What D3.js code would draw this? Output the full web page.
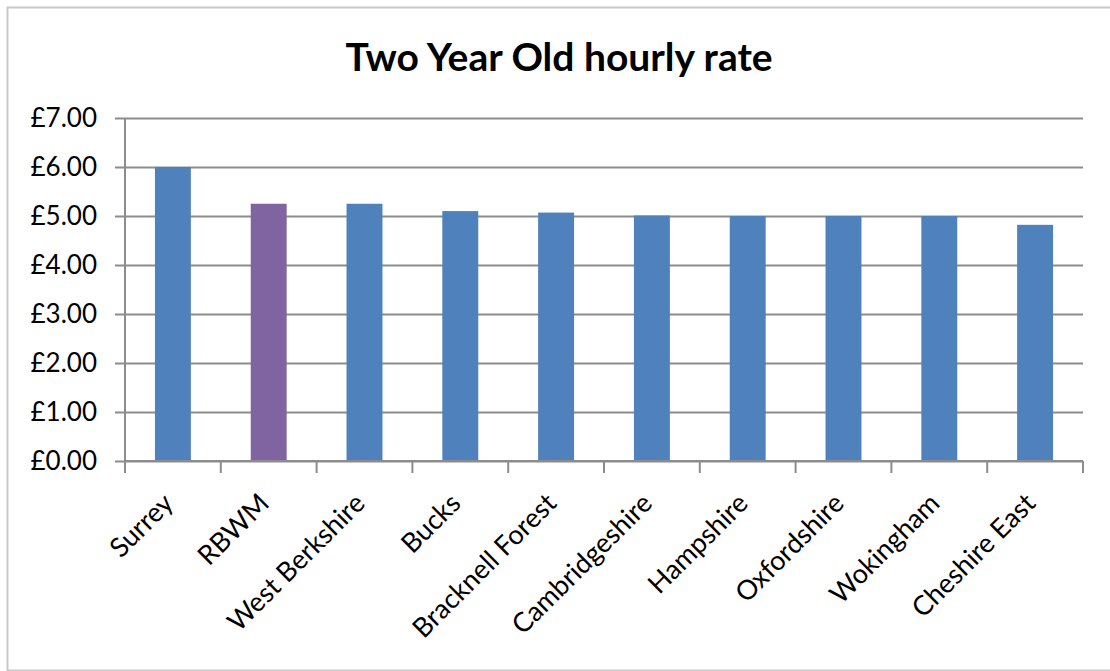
<!DOCTYPE html>
<html>
<head>
<meta charset="utf-8">
<script src="https://cdn.jsdelivr.net/npm/d3@7"></script>
<style>
  body { margin: 0; background: #fff; }
  text { font-family: Lato, "Open Sans", sans-serif; }
</style>
</head>
<body>
<div id="chart"></div>
<script>
// data
var areas = ["Surrey", "RBWM", "West Berkshire", "Bucks", "Bracknell Forest",
             "Cambridgeshire", "Hampshire", "Oxfordshire", "Wokingham", "Cheshire East"];
var rates = [6.00, 5.25, 5.25, 5.10, 5.07, 5.01, 5.00, 5.00, 5.00, 4.82];
var highlight = ["RBWM"];
var yTicks = [0, 1, 2, 3, 4, 5, 6, 7];

var W = 1110, H = 671;
var plot = { left: 125, right: 1083, top: 118, bottom: 461 };

var svg = d3.select("#chart")
    .append("svg")
    .attr("width", W)
    .attr("height", H);

// outer chart frame
svg.append("rect")
    .attr("x", 7.5).attr("y", 7.5)
    .attr("width", W).attr("height", 663)
    .attr("fill", "#fff")
    .attr("stroke", "#c8c8c8")
    .attr("stroke-width", 2);

svg.append("text")
    .attr("x", 559)
    .attr("y", 71)
    .attr("text-anchor", "middle")
    .style("font-size", "39px")
    .style("font-weight", "bold")
    .style("fill", "#000")
    .text("Two Year Old hourly rate");

var x = d3.scaleBand()
    .domain(areas)
    .range([plot.left, plot.right])
    .paddingInner(0.625)
    .paddingOuter(0.3125);

var y = d3.scaleLinear()
    .domain([0, 7])
    .range([plot.bottom, plot.top]);

// gridlines + y labels
var yAxis = svg.append("g")
    .attr("transform", "translate(" + plot.left + ",0)")
    .call(d3.axisLeft(y)
        .tickValues(yTicks)
        .tickSize(-(plot.right - plot.left))
        .tickPadding(28)
        .tickFormat(function (d) { return "£" + d3.format(".2f")(d); }));
yAxis.select(".domain").remove();
yAxis.selectAll(".tick line")
    .attr("x1", -10)
    .attr("stroke", "#8c8c8c")
    .attr("stroke-width", 2);
yAxis.selectAll(".tick text")
    .style("font-size", "26px")
    .style("fill", "#000")
    .attr("x", -28);

// y axis line
svg.append("line")
    .attr("x1", plot.left).attr("x2", plot.left)
    .attr("y1", plot.top).attr("y2", plot.bottom)
    .attr("stroke", "#8c8c8c")
    .attr("stroke-width", 2);

// bars
svg.selectAll(".bar")
    .data(areas)
    .enter()
    .append("rect")
    .attr("class", "bar")
    .attr("x", function (d) { return x(d); })
    .attr("width", x.bandwidth())
    .attr("y", function (d, i) { return y(rates[i]); })
    .attr("height", function (d, i) { return y(0) - y(rates[i]); })
    .attr("fill", function (d) { return highlight.indexOf(d) >= 0 ? "#8064A2" : "#4F81BD"; });

// x axis with tick marks at category boundaries
var edges = d3.range(areas.length + 1).map(function (i) { return plot.left + i * (plot.right - plot.left) / areas.length; });
svg.append("line")
    .attr("x1", plot.left).attr("x2", plot.right)
    .attr("y1", plot.bottom).attr("y2", plot.bottom)
    .attr("stroke", "#8c8c8c")
    .attr("stroke-width", 2);
svg.selectAll(".xtick")
    .data(edges)
    .enter()
    .append("line")
    .attr("class", "xtick")
    .attr("x1", function (d) { return d; })
    .attr("x2", function (d) { return d; })
    .attr("y1", plot.bottom)
    .attr("y2", plot.bottom + 12)
    .attr("stroke", "#8c8c8c")
    .attr("stroke-width", 2);

// rotated category labels
svg.selectAll(".xlabel")
    .data(areas)
    .enter()
    .append("text")
    .attr("class", "xlabel")
    .attr("text-anchor", "end")
    .attr("transform", function (d) {
        var cx = x(d) + x.bandwidth() / 2 + 2;
        return "translate(" + cx + "," + (plot.bottom + 44) + ") rotate(-45)";
    })
    .style("font-size", "27px")
    .style("fill", "#000")
    .text(function (d) { return d; });
</script>
</body>
</html>
